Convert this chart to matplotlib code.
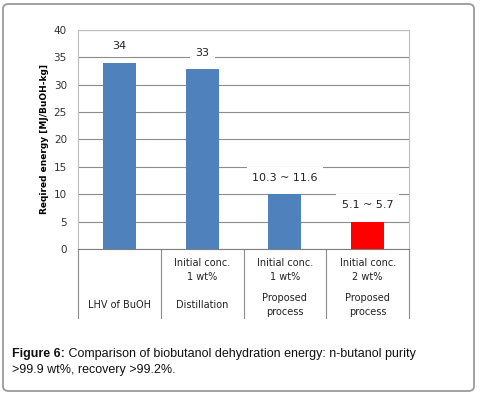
import numpy as np
import matplotlib.pyplot as plt
from matplotlib.patches import FancyBboxPatch
import matplotlib.transforms as mtransforms

# data
values = [34, 32.8, 10, 5]
value_labels = ['34', '33', '10.3 ~ 11.6', '5.1 ~ 5.7']
bar_colors = ['#4f81bd', '#4f81bd', '#4f81bd', '#ff0000']
row1 = ['', 'Initial conc.\n1 wt%', 'Initial conc.\n1 wt%', 'Initial conc.\n2 wt%']
row2 = ['LHV of BuOH', 'Distillation', 'Proposed\nprocess', 'Proposed\nprocess']

plt.rcParams['font.family'] = ['DejaVu Sans']

fig = plt.figure(figsize=(4.82, 3.94), dpi=100)
W, H = 482, 394

# outer rounded frame
frame = FancyBboxPatch((3 / W, 3 / H), 471 / W, 387 / H,
                       boxstyle='round,pad=0,rounding_size=0.012',
                       transform=fig.transFigure, fill=False,
                       edgecolor='#9a9a9a', linewidth=1.3)
fig.patches.append(frame)

ax = fig.add_axes([78 / W, 1 - 249 / H, 331 / W, 219 / H])
x = np.arange(len(values))
ax.bar(x, values, width=0.4, color=bar_colors, zorder=3)
ax.set_xlim(-0.5, 3.5)
ax.set_ylim(0, 40)
ax.set_yticks(np.arange(0, 41, 5))
ax.tick_params(axis='y', labelsize=7.5, colors='#333333', length=0, pad=8)
ax.set_xticks([])
ax.grid(axis='y', color='#8c8c8c', linewidth=0.8, zorder=0)
for s in ['top', 'right', 'left']:
    ax.spines[s].set_color('#bdbdbd')
    ax.spines[s].set_linewidth(0.8)
ax.spines['bottom'].set_color('#7f7f7f')
ax.spines['bottom'].set_linewidth(0.8)

for xi, v, lab in zip(x, values, value_labels):
    ax.annotate(lab, (xi, v), xytext=(0, 12), textcoords='offset points',
                ha='center', va='center', fontsize=8, color='#222222', zorder=4,
                bbox=dict(boxstyle='square,pad=0.5', fc='white', ec='none'))

ax.set_ylabel('Reqired energy [MJ/BuOH-kg]', fontsize=6.5, fontweight='bold',
              labelpad=3)

# table under the axis
trans = mtransforms.blended_transform_factory(ax.transData, ax.transAxes)
for b in np.arange(-0.5, 4, 1):
    ax.plot([b, b], [0, -0.315], transform=trans, color='#8c8c8c',
            linewidth=0.8, clip_on=False)
for xi, t1, t2 in zip(x, row1, row2):
    ax.text(xi, -0.096, t1, transform=trans, ha='center', va='center',
            fontsize=7, color='#222222', linespacing=1.45)
    ax.text(xi, -0.256, t2, transform=trans, ha='center', va='center',
            fontsize=7, color='#222222', linespacing=1.45)

# caption
cap = fig.text(12 / W, 1 - 357 / H, 'Figure 6:', fontsize=9, fontweight='bold',
               family='Liberation Sans', color='#111111', va='baseline')
ax.annotate(' Comparison of biobutanol dehydration energy: n-butanol purity',
            xy=(1, 0), xycoords=cap, va='bottom', ha='left', fontsize=9,
            family='Liberation Sans', color='#111111', annotation_clip=False)
fig.text(12 / W, 1 - 373 / H, '>99.9 wt%, recovery >99.2%.', fontsize=9,
         family='Liberation Sans', color='#111111', va='baseline')

fig.savefig('out.png', dpi=100)
